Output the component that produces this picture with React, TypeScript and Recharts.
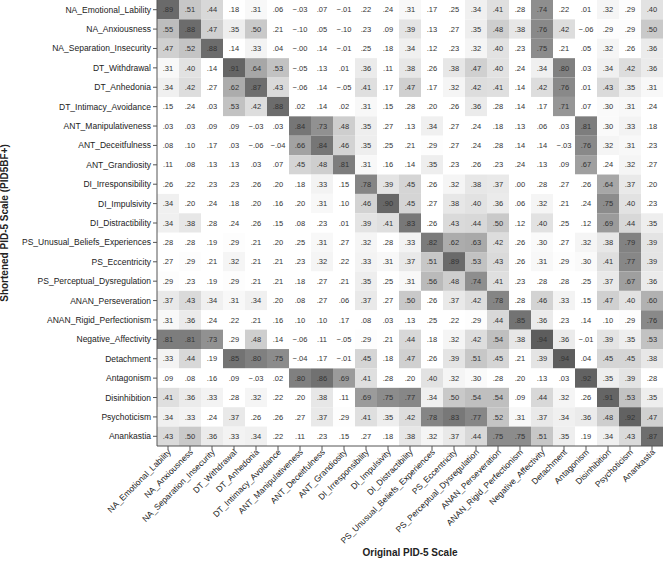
import React from 'react';
import { BarChart, Bar, XAxis, YAxis, Cell, LabelList, Label } from 'recharts';

const scaleNames = [
  'NA_Emotional_Lability', 'NA_Anxiousness', 'NA_Separation_Insecurity', 'DT_Withdrawal', 'DT_Anhedonia',
  'DT_Intimacy_Avoidance', 'ANT_Manipulativeness', 'ANT_Deceitfulness', 'ANT_Grandiosity', 'DI_Irresponsibility',
  'DI_Impulsivity', 'DI_Distractibility', 'PS_Unusual_Beliefs_Experiences', 'PS_Eccentricity',
  'PS_Perceptual_Dysregulation', 'ANAN_Perseveration', 'ANAN_Rigid_Perfectionism', 'Negative_Affectivity',
  'Detachment', 'Antagonism', 'Disinhibition', 'Psychoticism', 'Anankastia',
];
const rowLabels = scaleNames; // Shortened PID-5 (PID5BF+)
const colLabels = scaleNames; // Original PID-5

const NA_Emotional_Lability = [.89, .51, .44, .18, .31, .06, -.03, .07, -.01, .22, .24, .31, .17, .25, .34, .41, .28, .74, .22, .01, .32, .29, .40];
const NA_Anxiousness = [.55, .88, .47, .35, .50, .21, -.10, .05, -.10, .23, .09, .39, .13, .27, .35, .48, .38, .76, .42, -.06, .29, .29, .50];
const NA_Separation_Insecurity = [.47, .52, .88, .14, .33, .04, -0, .14, -.01, .25, .18, .34, .12, .23, .32, .40, .23, .75, .21, .05, .32, .26, .36];
const DT_Withdrawal = [.31, .40, .14, .91, .64, .53, -.05, .13, .01, .36, .11, .38, .26, .38, .47, .40, .24, .34, .80, .03, .34, .42, .36];
const DT_Anhedonia = [.34, .42, .27, .62, .87, .43, -.06, .14, -.05, .41, .17, .47, .17, .32, .42, .41, .14, .42, .76, .01, .43, .35, .31];
const DT_Intimacy_Avoidance = [.15, .24, .03, .53, .42, .88, .02, .14, .02, .31, .15, .28, .20, .26, .36, .28, .14, .17, .71, .07, .30, .31, .24];
const ANT_Manipulativeness = [.03, .03, .09, .09, -.03, .03, .84, .73, .48, .35, .27, .13, .34, .27, .24, .18, .13, .06, .03, .81, .30, .33, .18];
const ANT_Deceitfulness = [.08, .10, .17, .03, -.06, -.04, .66, .84, .46, .35, .25, .21, .29, .27, .24, .28, .14, .14, -.03, .76, .32, .31, .23];
const ANT_Grandiosity = [.11, .08, .13, .13, .03, .07, .45, .48, .81, .31, .16, .14, .35, .23, .26, .23, .24, .13, .09, .67, .24, .32, .27];
const DI_Irresponsibility = [.26, .22, .23, .23, .26, .20, .18, .33, .15, .78, .39, .45, .26, .32, .38, .37, .00, .28, .27, .26, .64, .37, .20];
const DI_Impulsivity = [.34, .20, .24, .18, .20, .16, .20, .31, .10, .46, .90, .45, .27, .38, .40, .36, .06, .32, .21, .24, .75, .40, .23];
const DI_Distractibility = [.34, .38, .28, .24, .26, .15, .08, .23, .01, .39, .41, .83, .26, .43, .44, .50, .12, .40, .25, .12, .69, .44, .35];
const PS_Unusual_Beliefs_Experiences = [.28, .28, .19, .29, .21, .20, .25, .31, .27, .32, .28, .33, .82, .62, .63, .42, .26, .30, .27, .32, .38, .79, .39];
const PS_Eccentricity = [.27, .29, .21, .32, .21, .21, .23, .32, .22, .33, .31, .37, .51, .89, .53, .43, .26, .31, .29, .30, .41, .77, .39];
const PS_Perceptual_Dysregulation = [.29, .23, .19, .29, .21, .21, .18, .27, .21, .35, .25, .31, .56, .48, .74, .41, .23, .28, .28, .25, .37, .67, .36];
const ANAN_Perseveration = [.37, .43, .34, .31, .34, .20, .08, .27, .06, .37, .27, .50, .26, .37, .42, .78, .28, .46, .33, .15, .47, .40, .60];
const ANAN_Rigid_Perfectionism = [.31, .36, .24, .22, .21, .16, .10, .10, .17, .08, .03, .13, .25, .22, .29, .44, .85, .36, .23, .14, .10, .29, .76];
const Negative_Affectivity = [.81, .81, .73, .29, .48, .14, -.06, .11, -.05, .29, .21, .44, .18, .32, .42, .54, .38, .94, .36, -.01, .39, .35, .53];
const Detachment = [.33, .44, .19, .85, .80, .75, -.04, .17, -.01, .45, .18, .47, .26, .39, .51, .45, .21, .39, .94, .04, .45, .45, .38];
const Antagonism = [.09, .08, .16, .09, -.03, .02, .80, .86, .69, .41, .28, .20, .40, .32, .30, .28, .20, .13, .03, .92, .35, .39, .28];
const Disinhibition = [.41, .36, .33, .28, .32, .22, .20, .38, .11, .69, .75, .77, .34, .50, .54, .54, .09, .44, .32, .26, .91, .53, .35];
const Psychoticism = [.34, .33, .24, .37, .26, .26, .27, .37, .29, .41, .35, .42, .78, .83, .77, .52, .31, .37, .34, .36, .48, .92, .47];
const Anankastia = [.43, .50, .36, .33, .34, .22, .11, .23, .15, .27, .18, .38, .32, .37, .44, .75, .75, .51, .35, .19, .34, .43, .87];

const matrix = [
  NA_Emotional_Lability, NA_Anxiousness, NA_Separation_Insecurity, DT_Withdrawal, DT_Anhedonia,
  DT_Intimacy_Avoidance, ANT_Manipulativeness, ANT_Deceitfulness, ANT_Grandiosity, DI_Irresponsibility,
  DI_Impulsivity, DI_Distractibility, PS_Unusual_Beliefs_Experiences, PS_Eccentricity,
  PS_Perceptual_Dysregulation, ANAN_Perseveration, ANAN_Rigid_Perfectionism, Negative_Affectivity,
  Detachment, Antagonism, Disinhibition, Psychoticism, Anankastia,
];

const data = colLabels.map((col, j) => {
  const o: any = { col };
  matrix.forEach((row, i) => {
    o[`r${i}`] = 1;
    o[`v${i}`] = row[j];
  });
  return o;
});

const yTicks = rowLabels.map((_, i) => i + 0.5);

const shade = (v: number) => {
  const g = Math.round(Math.max(70, Math.min(255, 255 - (v - 0.28) * 245)));
  return `rgb(${g},${g},${g})`;
};

const fmt = (v: any) => {
  const n = Number(v);
  const neg = n < 0 || Object.is(n, -0);
  const s = Math.abs(n).toFixed(2).replace(/^0/, '');
  return (neg ? '\u2212' : '') + s;
};

const FONT = '"Liberation Sans", Arial, Helvetica, sans-serif';
const TICK_FS = 8.5;

const XTick = (props: any) => {
  const { x, y, payload } = props;
  return (
    <g transform={`translate(${x},${y})`}>
      <text x={0} y={0} dx={2} dy={3} textAnchor="end" transform="rotate(-45)" fontSize={TICK_FS} fill="#222" fontFamily={FONT}>
        {payload.value}
      </text>
    </g>
  );
};

export default function App() {
  return (
    <div style={{ position: 'absolute', left: 0, top: 0, background: '#fff', fontFamily: FONT }}>
      <BarChart
        width={667}
        height={562}
        data={data}
        margin={{ top: 0, right: 4, left: 0, bottom: 0 }}
        barCategoryGap={0}
        barGap={0}
      >
        <XAxis
          dataKey="col"
          type="category"
          interval={0}
          height={116}
          tick={<XTick />}
          tickSize={4}
          tickLine={{ stroke: '#555' }}
          axisLine={{ stroke: '#555' }}
        >
          <Label value="Original PID-5 Scale" position="insideBottom" offset={6} fontSize={10} fontWeight="bold" fill="#222" fontFamily={FONT} />
        </XAxis>
        <XAxis xAxisId="top" orientation="top" dataKey="col" type="category" height={0} tick={false} tickLine={false} axisLine={{ stroke: '#999' }} />
        <YAxis
          type="number"
          domain={[0, rowLabels.length]}
          reversed
          ticks={yTicks}
          interval={0}
          width={157}
          tickFormatter={(t: number) => rowLabels[Math.floor(t)]}
          tick={{ fontSize: TICK_FS, fill: '#222', fontFamily: FONT }}
          tickSize={4}
          tickLine={{ stroke: '#555' }}
          axisLine={{ stroke: '#555' }}
          allowDataOverflow
        >
          <Label value="Shortened PID-5 Scale (PID5BF+)" angle={-90} position="insideLeft" offset={4} style={{ textAnchor: 'middle' }} fontSize={10} fontWeight="bold" fill="#222" fontFamily={FONT} />
        </YAxis>
        <YAxis yAxisId="right" orientation="right" type="number" domain={[0, 1]} width={0} tick={false} tickLine={false} axisLine={{ stroke: '#999' }} />
        {matrix.map((row, i) => (
          <Bar key={i} dataKey={`r${i}`} stackId="m" isAnimationActive={false}>
            {row.map((v, j) => (
              <Cell key={j} fill={shade(v)} />
            ))}
            <LabelList dataKey={`v${i}`} position="center" formatter={fmt} fontSize={7.5} fill="#333" fontFamily={FONT} />
          </Bar>
        ))}
      </BarChart>
    </div>
  );
}
